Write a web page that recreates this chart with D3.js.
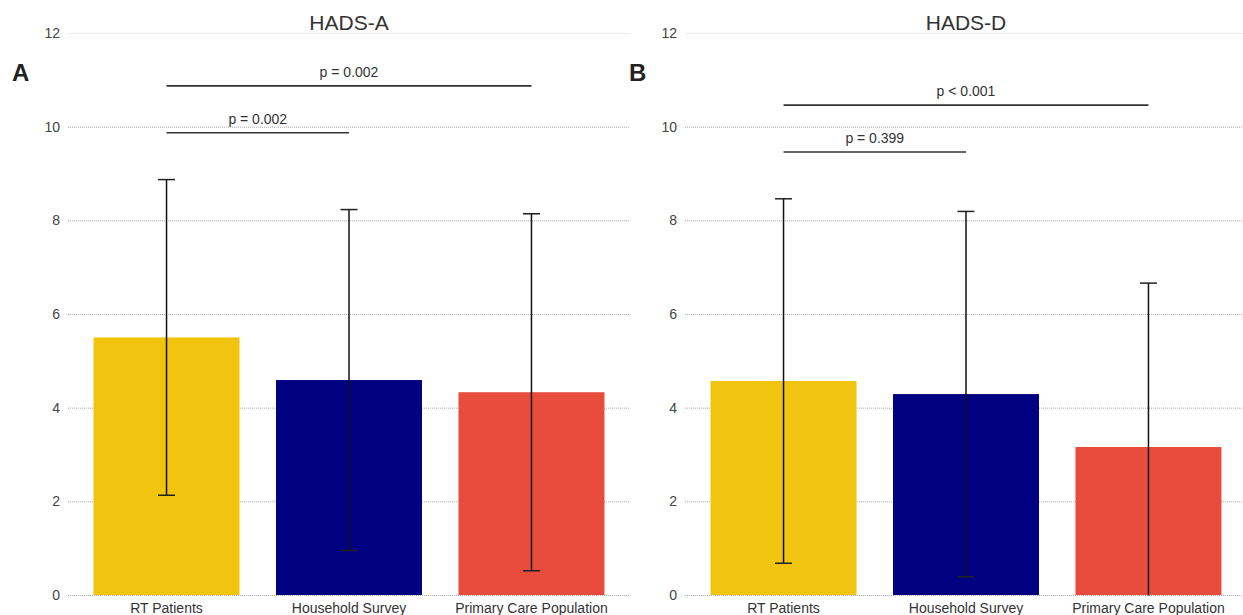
<!DOCTYPE html>
<html>
<head>
<meta charset="utf-8">
<script src="https://cdn.jsdelivr.net/npm/d3@7"></script>
<style>
  html, body { margin: 0; padding: 0; background: #fff; }
  svg { display: block; font-family: "Liberation Sans", Arial, sans-serif; }
</style>
</head>
<body>
<svg id="chart" width="1243" height="615"></svg>
<script>
// Group labels shared by both panels
const categories = ["RT Patients", "Household Survey", "Primary Care Population"];
const barColors = ["#F1C40F", "#000080", "#E74C3C"];

// HADS-A (anxiety): mean and standard deviation per group
const hadsAMeans = [5.5, 4.59, 4.33];
const hadsASD = [3.37, 3.64, 3.81];
const hadsAPValues = ["p = 0.002", "p = 0.002"];

// HADS-D (depression): mean and standard deviation per group
const hadsDMeans = [4.57, 4.29, 3.16];
const hadsDSD = [3.89, 3.9, 3.5];
const hadsDPValues = ["p = 0.399", "p < 0.001"];

// Each comparison links RT Patients with one reference group
const comparisons = [[0, 1], [0, 2]];
const yTicks = [0, 2, 4, 6, 8, 10, 12];

const svg = d3.select("#chart");
const plotTop = 33, plotBottom = 595;
const y = d3.scaleLinear().domain([0, 12]).range([plotBottom, plotTop]);

function drawPanel(offset, title, letter, means, sds, pvals, clipId) {
  const left = 68 + offset, right = 630 + offset;
  const g = svg.append("g");

  const x = d3.scaleBand().domain(categories).range([left, right])
    .paddingInner(0.2).paddingOuter(0.14);

  g.append("clipPath").attr("id", clipId)
    .append("rect").attr("x", left - 20).attr("y", 0)
    .attr("width", right - left + 40).attr("height", plotBottom + 0.5);

  // horizontal gridlines
  g.selectAll("line.grid").data(yTicks).join("line")
    .attr("class", "grid")
    .attr("x1", left).attr("x2", right)
    .attr("y1", d => y(d) + 0.5).attr("y2", d => y(d) + 0.5)
    .attr("stroke", d => d === 12 ? "#ececec" : "#a8a8a8")
    .attr("stroke-width", 1)
    .attr("stroke-dasharray", d => d === 12 ? null : "1,1");

  // y tick labels
  g.selectAll("text.ytick").data(yTicks).join("text")
    .attr("class", "ytick")
    .attr("x", left - 8).attr("y", d => y(d))
    .attr("dy", "0.35em")
    .attr("text-anchor", "end")
    .attr("font-size", 14).attr("fill", "#444")
    .text(d => d);

  // bars
  g.selectAll("rect.bar").data(means).join("rect")
    .attr("class", "bar")
    .attr("x", (d, i) => x(categories[i]))
    .attr("width", x.bandwidth())
    .attr("y", d => y(d))
    .attr("height", d => y(0) - y(d))
    .attr("fill", (d, i) => barColors[i]);

  // error bars (mean ± SD), clipped at the axis floor
  const eg = g.append("g").attr("clip-path", `url(#${clipId})`);
  means.forEach((m, i) => {
    const cx = x(categories[i]) + x.bandwidth() / 2;
    const hi = y(m + sds[i]), lo = y(m - sds[i]);
    eg.append("line").attr("x1", cx).attr("x2", cx).attr("y1", hi).attr("y2", lo)
      .attr("stroke", "#111").attr("stroke-width", 1.5);
    [hi, lo].forEach(v => {
      eg.append("line").attr("x1", cx - 8.5).attr("x2", cx + 8.5)
        .attr("y1", v).attr("y2", v)
        .attr("stroke", "#222").attr("stroke-width", 1.5);
    });
  });

  // significance brackets above the tallest error bar
  const peak = d3.max(means.map((m, i) => m + sds[i]));
  comparisons.forEach(([a, b], k) => {
    const level = peak + 1 + k;
    const xa = x(categories[a]) + x.bandwidth() / 2;
    const xb = x(categories[b]) + x.bandwidth() / 2;
    g.append("line").attr("x1", xa).attr("x2", xb)
      .attr("y1", y(level)).attr("y2", y(level))
      .attr("stroke", "#333").attr("stroke-width", 1.6);
    g.append("text").attr("x", (xa + xb) / 2).attr("y", y(level) - 9)
      .attr("text-anchor", "middle").attr("font-size", 14).attr("fill", "#333")
      .text(pvals[k]);
  });

  // x category labels
  g.selectAll("text.xlab").data(categories).join("text")
    .attr("class", "xlab")
    .attr("x", d => x(d) + x.bandwidth() / 2)
    .attr("y", 613)
    .attr("text-anchor", "middle").attr("font-size", 14).attr("fill", "#333")
    .text(d => d);

  // panel title and letter
  g.append("text").attr("x", (left + right) / 2).attr("y", 30)
    .attr("text-anchor", "middle").attr("font-size", 21).attr("fill", "#333")
    .text(title);
  g.append("text").attr("x", 12 + offset).attr("y", 81)
    .attr("font-size", 24).attr("font-weight", "bold").attr("fill", "#222")
    .text(letter);
}

drawPanel(0, "HADS-A", "A", hadsAMeans, hadsASD, hadsAPValues, "clipA");
drawPanel(617, "HADS-D", "B", hadsDMeans, hadsDSD, hadsDPValues, "clipB");
</script>
</body>
</html>
